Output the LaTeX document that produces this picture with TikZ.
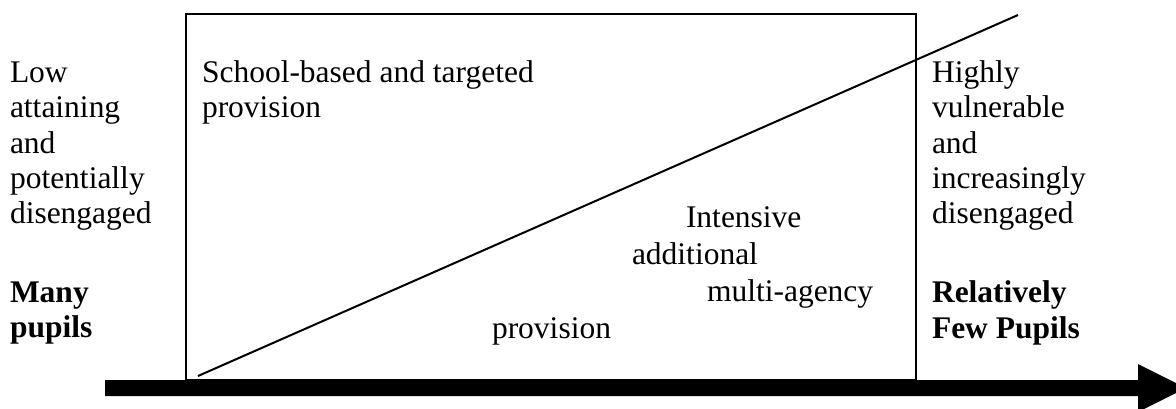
\documentclass[tikz,border=0pt]{standalone}
\usepackage{fontspec}
\setmainfont{Liberation Serif}
\begin{document}
\begin{tikzpicture}[x=1pt,y=-1pt,
  txt/.style={anchor=base west,inner sep=0pt,outer sep=0pt,font=\fontsize{31.5}{35}\selectfont},
  btxt/.style={txt,font=\fontsize{31.5}{35}\selectfont\bfseries},
  frame/.style={draw=black,line width=2pt},
  diag/.style={draw=black,line width=2pt}]
\useasboundingbox (0,0) rectangle (1176,408);
\begin{scope}
\clip (0,0) rectangle (1176,408);
% main box
\draw[frame] (186,14) rectangle (916,380);
% diagonal
\coordinate (d1) at (198,376);
\coordinate (d2) at (1018,15);
\draw[diag] (d1) -- (d2);
% big arrow
\fill[black] (105,380) -- (1138,380) -- (1138,364) -- (1186,388) -- (1138,412) -- (1138,396) -- (105,396) -- cycle;
\end{scope}
% left column
\node[txt] (l1) at (10,82) {Low};
\node[txt] (l2) at (10,117) {attaining};
\node[txt] (l3) at (10,153) {and};
\node[txt] (l4) at (10,188) {potentially};
\node[txt] (l5) at (10,223) {disengaged};
\node[btxt] (l6) at (10,302) {Many};
\node[btxt] (l7) at (10,337) {pupils};
% box upper text
\node[txt] (s1) at (202,82) {School-based and targeted};
\node[txt] (s2) at (202,117) {provision};
% right column
\node[txt] (r1) at (932,82) {Highly};
\node[txt] (r2) at (932,117) {vulnerable};
\node[txt] (r3) at (932,153) {and};
\node[txt] (r4) at (932,188) {increasingly};
\node[txt] (r5) at (932,223) {disengaged};
\node[btxt] (r6) at (932,302) {Relatively};
\node[btxt] (r7) at (932,338) {Few Pupils};
% middle text
\node[txt] (m1) at (686,227) {Intensive};
\node[txt] (m2) at (632,264) {additional};
\node[txt] (m3) at (707,301) {multi-agency};
\node[txt] (m4) at (492,338) {provision};
\end{tikzpicture}
\end{document}
